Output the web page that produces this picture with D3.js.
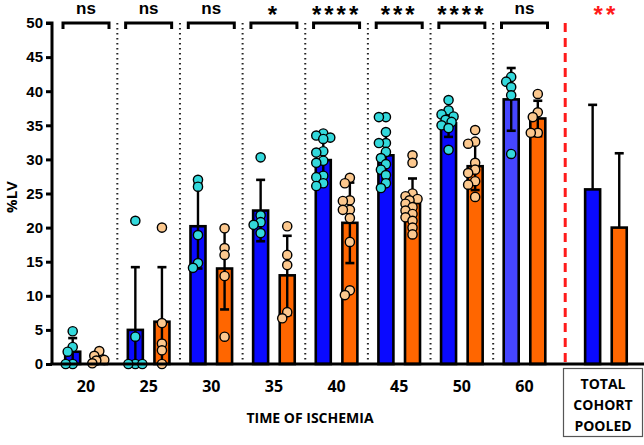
<!DOCTYPE html>
<html><head><meta charset="utf-8">
<script src="https://cdn.jsdelivr.net/npm/d3@7/dist/d3.min.js"></script>
<style>body{margin:0;background:#fff}svg{display:block}</style>
</head><body><svg id="c" width="644" height="445"></svg>
<script>
const categories = ["20","25","30","35","40","45","50","60"];
const sigLabels = ["ns","ns","ns","*","****","***","****","ns"];
const blueMean = [1.8, 5.0, 20.2, 22.5, 29.9, 30.6, 35.3, 38.8];
const blueSD   = [2.0, 9.2, 6.2, 4.5, 3.4, 3.5, 2.0, 4.6];
const orangeMean = [0.8, 6.2, 14.0, 13.0, 20.7, 23.6, 29.0, 36.0];
const orangeSD   = [0.7, 8.0, 6.0, 5.8, 5.9, 3.6, 3.5, 2.6];
const blueDots = [
  [4.8, 2.5, 1.8, 0, 0],
  [21, 4, 0, 0, 0],
  [27, 26, 18.9, 14.8, 14.1],
  [30.3, 21.8, 20.8, 20.4, 19.2],
  [33.8, 33.5, 33.2, 33.0, 31.2, 31.0, 29.8, 29.5, 27.6, 27.4, 26.5, 26.1],
  [36.2, 36.2, 34.0, 32.4, 32.4, 31.1, 30.2, 29.3, 28.5, 27.7, 26.5, 25.8],
  [38.7, 37.2, 36.6, 36.3, 35.8, 35.5, 35.0, 34.6, 31.4],
  [42.1, 41.4, 40.6, 39.4, 30.8]
];
const orangeDots = [
  [1.9, 1.2, 0.6, 0.5, 0.1],
  [20, 6, 3, 2, 0],
  [19.9, 17, 16, 12.9, 4],
  [20.2, 16, 14.5, 7.6, 6.7],
  [27.3, 26.5, 24, 23.9, 22.6, 22.6, 21.4, 17.9, 10.8, 10.1],
  [30.6, 29.5, 25.0, 24.6, 24.2, 24.0, 23.5, 23.0, 22.5, 22.0, 21.5, 21.0, 20.0, 19.0],
  [34.3, 32.6, 32.3, 29.5, 28.5, 28.0, 26.8, 26.3, 24.5],
  [39.6, 36.9, 36.2, 33.9, 33.9]
];
const pooledMean = [25.6, 20.0];
const pooledSD = [12.4, 10.9];
const pooledSig = "**";
const yTicks = [0,5,10,15,20,25,30,35,40,45,50];
const totalLabel = ["TOTAL","COHORT","POOLED"];

const svg = d3.select("#c");
const y = d3.scaleLinear().domain([0,50]).range([364,23]);
const x = d3.scaleLinear().domain([0,7]).range([86,524.5]);
const totalPos = 8.3;
const off = 13.3, bw = 15;
const BLUE="#0a0aff", BLUE60="#4646ff", ORANGE="#ff6600", CYAN="#33d9dc", PEACH="#fcc88e";

// separators
for (let i=0;i<7;i++){
  const sx = x(i+0.5);
  svg.append("line").attr("x1",sx).attr("x2",sx).attr("y1",y(50)).attr("y2",y(0))
    .attr("stroke","#222").attr("stroke-width",2).attr("stroke-dasharray","1.6,3.4");
}
const rx = (x(7)+x(totalPos))/2;
svg.append("line").attr("x1",rx).attr("x2",rx).attr("y1",y(50)).attr("y2",y(0))
  .attr("stroke","#ff1a1a").attr("stroke-width",3).attr("stroke-dasharray","9,6");

function bar(cx, m, color){
  svg.append("rect").attr("x",cx-bw/2).attr("y",y(m)).attr("width",bw).attr("height",y(0)-y(m))
    .attr("fill",color).attr("stroke","#000").attr("stroke-width",2.6);
}
function err(cx, m, s, lower){
  const top=y(m+s), bot=y(Math.max(0,m-s));
  svg.append("line").attr("x1",cx).attr("x2",cx).attr("y1",top).attr("y2",lower?bot:y(m))
    .attr("stroke","#000").attr("stroke-width",2.4);
  svg.append("line").attr("x1",cx-4.5).attr("x2",cx+4.5).attr("y1",top).attr("y2",top)
    .attr("stroke","#000").attr("stroke-width",2.6);
  if(lower && m-s>0){
    svg.append("line").attr("x1",cx-4.5).attr("x2",cx+4.5).attr("y1",bot).attr("y2",bot)
      .attr("stroke","#000").attr("stroke-width",2.6);
  }
}
function dots(cx, vals, color){
  const placed=[];
  const cands=[0,-5,5,-3,3,-7,7];
  vals.forEach(v=>{
    const py=y(v);
    let best=cands[0], bestD=-1;
    for(const c of cands){
      let md=Infinity;
      placed.forEach(p=>{md=Math.min(md,Math.hypot(p[0]-c,p[1]-py));});
      if(md>=6.5){best=c;bestD=md;break;}
      if(md>bestD){bestD=md;best=c;}
    }
    placed.push([best,py]);
  });
  placed.forEach(p=>{
    svg.append("circle").attr("cx",cx+p[0]).attr("cy",p[1]).attr("r",4.6)
      .attr("fill",color).attr("stroke","#000").attr("stroke-width",1.4);
  });
}

categories.forEach((c,i)=>{
  const cb=x(i)-off, co=x(i)+off;
  bar(cb, blueMean[i], i===7?BLUE60:BLUE);
  bar(co, orangeMean[i], ORANGE);
  err(cb, blueMean[i], blueSD[i], true);
  err(co, orangeMean[i], orangeSD[i], true);
  dots(cb, blueDots[i], CYAN);
  dots(co, orangeDots[i], PEACH);
  // bracket
  const bx1=x(i)-23, bx2=x(i)+23, by=y(50);
  svg.append("path").attr("d",`M${bx1},${by+6}V${by}H${bx2}V${by+6}`)
    .attr("fill","none").attr("stroke","#000").attr("stroke-width",3);
  const isStar = sigLabels[i].startsWith("*");
  svg.append("text").attr("x",x(i)).attr("y",isStar?22.5:14).attr("text-anchor","middle")
    .attr("font-family","Liberation Sans, Arial, sans-serif").attr("font-weight","bold")
    .attr("font-size",isStar?24:17).attr("letter-spacing",isStar?3:0).text(sigLabels[i]);
});

// pooled
const tb=x(totalPos)-off, to=x(totalPos)+off;
bar(tb, pooledMean[0], BLUE); bar(to, pooledMean[1], ORANGE);
err(tb, pooledMean[0], pooledSD[0], false); err(to, pooledMean[1], pooledSD[1], false);
svg.append("text").attr("x",x(totalPos)).attr("y",23).attr("text-anchor","middle")
  .attr("font-family","Liberation Sans, Arial, sans-serif").attr("font-weight","bold")
  .attr("font-size",24).attr("letter-spacing",3).attr("fill","#ff1a1a").text(pooledSig);

// axes
const ya = svg.append("g").attr("transform","translate(52,0)")
  .call(d3.axisLeft(y).tickValues(yTicks).tickSize(6).tickPadding(3));
ya.select(".domain").attr("stroke-width",3).attr("d",`M-6,${y(50)}H0V${y(0)}`);
ya.selectAll(".tick line").attr("stroke-width",3);
ya.selectAll("text").attr("font-family","Liberation Sans, Arial, sans-serif")
  .attr("font-weight","bold").attr("font-size",15).attr("fill","#000");
svg.append("line").attr("x1",50.5).attr("x2",644).attr("y1",y(0)).attr("y2",y(0))
  .attr("stroke","#000").attr("stroke-width",3);

categories.forEach((c,i)=>{
  svg.append("text").attr("x",x(i)).attr("y",392).attr("text-anchor","middle")
    .attr("font-family","Open Sans, sans-serif").attr("font-weight","bold")
    .attr("font-size",16).text(c);
});
svg.append("text").attr("x",310).attr("y",423).attr("text-anchor","middle")
  .attr("font-family","Open Sans, sans-serif").attr("font-weight","bold")
  .attr("font-size",14).text("TIME OF ISCHEMIA");
svg.append("text").attr("transform","translate(17,197) rotate(-90)").attr("text-anchor","middle")
  .attr("font-family","Open Sans, sans-serif").attr("font-weight","bold")
  .attr("font-size",15).text("%LV");

svg.append("rect").attr("x",563.5).attr("y",368.5).attr("width",79).attr("height",68)
  .attr("fill","none").attr("stroke","#555").attr("stroke-width",1.2);
totalLabel.forEach((t,k)=>{
  svg.append("text").attr("x",603).attr("y",389+k*21).attr("text-anchor","middle")
    .attr("font-family","Open Sans, sans-serif").attr("font-weight","bold")
    .attr("font-size",14).text(t);
});
</script></body></html>
